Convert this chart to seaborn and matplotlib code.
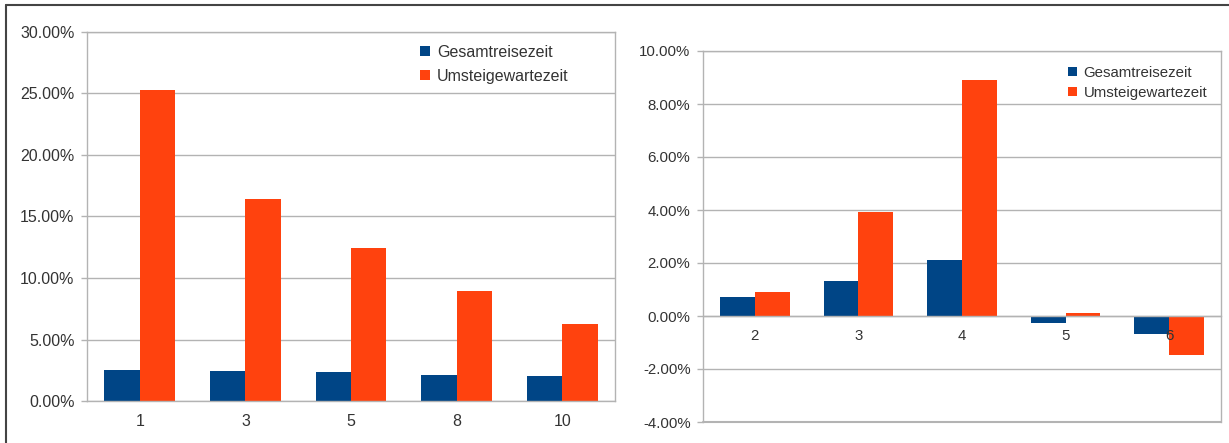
import matplotlib
matplotlib.use("Agg")
import matplotlib.pyplot as plt
import matplotlib.ticker as mticker
from matplotlib.patches import Patch
import seaborn as sns
import pandas as pd

# ---- data ----
series_names = ["Gesamtreisezeit", "Umsteigewartezeit"]

left_categories = ["1", "3", "5", "8", "10"]
left_gesamt = [2.55, 2.4, 2.35, 2.15, 2.05]
left_umstieg = [25.3, 16.4, 12.4, 8.95, 6.25]

right_categories = ["2", "3", "4", "5", "6"]
right_gesamt = [0.71, 1.31, 2.12, -0.28, -0.68]
right_umstieg = [0.91, 3.93, 8.9, 0.12, -1.49]

BLUE = "#004586"
RED = "#ff420e"
GRID = "#b3b3b3"
TXT = "#333333"

sns.set_theme(style="white")
plt.rcParams["font.family"] = ["Liberation Sans", "DejaVu Sans"]

W, H = 1229, 443
fig = plt.figure(figsize=(W / 100, H / 100), dpi=100)
fig.patch.set_facecolor("white")


def px_axes(x0, y0, x1, y1):
    return fig.add_axes([x0 / W, 1 - y1 / H, (x1 - x0) / W, (y1 - y0) / H])


def make_df(cats, a, b):
    rows = []
    for c, v in zip(cats, a):
        rows.append({"cat": c, "val": v, "series": series_names[0]})
    for c, v in zip(cats, b):
        rows.append({"cat": c, "val": v, "series": series_names[1]})
    return pd.DataFrame(rows)


def style_axes(ax, cats, ylim, step, fs, zero_axis=False):
    ax.set_ylim(*ylim)
    ax.set_xlim(-0.5, len(cats) - 0.5)
    ax.set_facecolor("white")
    ax.yaxis.set_major_locator(mticker.MultipleLocator(step))
    ax.yaxis.set_major_formatter(mticker.FuncFormatter(lambda v, p: f"{v:.2f}%"))
    ax.grid(axis="y", color=GRID, linewidth=1)
    ax.grid(axis="x", visible=False)
    ax.set_axisbelow(True)
    ax.xaxis.set_zorder(3)
    for s in ax.spines.values():
        s.set_visible(True)
        s.set_color(GRID)
        s.set_linewidth(1)
    ax.set_xlabel("")
    ax.set_ylabel("")
    ax.set_xticks(range(len(cats)))
    ax.set_xticklabels(cats)
    ax.set_xticks([i - 0.5 for i in range(len(cats) + 1)], minor=True)
    ax.tick_params(axis="x", which="major", length=0, pad=9, labelsize=fs, colors=TXT)
    ax.tick_params(axis="x", which="minor", length=4, width=1, color=GRID, direction="out")
    ax.tick_params(axis="y", which="major", length=4, width=1, color=GRID,
                   pad=5, labelsize=fs, labelcolor=TXT, left=True)
    if zero_axis:
        ax.spines["bottom"].set_position(("data", 0))
        ax.axhline(ylim[0], color=GRID, linewidth=1.5, clip_on=False)


# ---- left chart ----
axL = px_axes(87, 32, 615, 401)
dfL = make_df(left_categories, left_gesamt, left_umstieg)
sns.barplot(data=dfL, x="cat", y="val", hue="series", order=left_categories,
            palette=[BLUE, RED], width=0.67, saturation=1, ax=axL,
            legend=False, errorbar=None, linewidth=0)
style_axes(axL, left_categories, (0, 30), 5, 11.5)

# ---- right chart ----
axR = px_axes(703, 51, 1221, 422)
dfR = make_df(right_categories, right_gesamt, right_umstieg)
sns.barplot(data=dfR, x="cat", y="val", hue="series", order=right_categories,
            palette=[BLUE, RED], width=0.67, saturation=1, ax=axR,
            legend=False, errorbar=None, linewidth=0)
style_axes(axR, right_categories, (-4, 10), 2, 10.8, zero_axis=True)

# ---- legends ----
handles = [Patch(facecolor=BLUE, edgecolor="none"), Patch(facecolor=RED, edgecolor="none")]
fig.legend(handles, series_names, loc="upper left",
           bbox_to_anchor=(420 / W, 1 - 45 / H), frameon=False,
           fontsize=11.5, handlelength=0.6, handleheight=0.6,
           handletextpad=0.45, labelspacing=0.55, borderpad=0, borderaxespad=0,
           labelcolor=TXT)
fig.legend(handles, series_names, loc="upper left",
           bbox_to_anchor=(1068 / W, 1 - 66 / H), frameon=False,
           fontsize=10.8, handlelength=0.6, handleheight=0.6,
           handletextpad=0.45, labelspacing=0.4, borderpad=0, borderaxespad=0,
           labelcolor=TXT)

# ---- outer frame (top and left edges) ----
fig.add_artist(plt.Line2D([6 / W, 1], [1 - 5 / H, 1 - 5 / H], color="#444444",
                          linewidth=1.5, transform=fig.transFigure))
fig.add_artist(plt.Line2D([6 / W, 6 / W], [0, 1 - 5 / H], color="#444444",
                          linewidth=1.5, transform=fig.transFigure))

fig.savefig("out.png", dpi=100, facecolor="white")
